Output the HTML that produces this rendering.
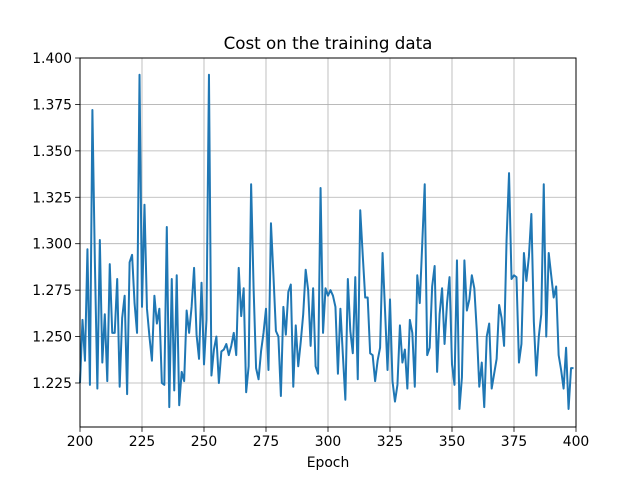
<!DOCTYPE html>
<html><head><meta charset="utf-8"><style>
body{margin:0;background:#fff;width:640px;height:480px;overflow:hidden}
svg text{font-family:"DejaVu Sans","Liberation Sans",sans-serif;fill:#000}
</style></head><body>
<svg id="chart" width="640" height="480">
<rect width="640" height="480" fill="#fff"/>
<text x="328" y="49" font-size="16.7" text-anchor="middle">Cost on the training data</text>
<g id="grid"></g>
<g id="series"></g>
<rect x="80" y="58" width="496" height="369" fill="none" stroke="#000" stroke-width="1"/>
<g id="ticks"></g>
<text x="328" y="467" font-size="13.9" text-anchor="middle">Epoch</text>
</svg>
<script>
const xTicks = [200, 225, 250, 275, 300, 325, 350, 375, 400];
const yTicks = [1.225, 1.250, 1.275, 1.300, 1.325, 1.350, 1.375, 1.400];
const yTickLabels = ["1.225","1.250","1.275","1.300","1.325","1.350","1.375","1.400"];
const startEpoch = 200;
const cost = [
1.225,1.259,1.237,1.297,1.224,1.372,1.290,1.222,1.302,1.236,
1.262,1.226,1.289,1.252,1.252,1.281,1.223,1.260,1.272,1.219,
1.290,1.294,1.268,1.252,1.391,1.266,1.321,1.265,1.250,1.237,
1.272,1.257,1.265,1.225,1.224,1.309,1.212,1.281,1.221,1.283,
1.213,1.231,1.226,1.264,1.252,1.266,1.287,1.251,1.238,1.279,
1.235,1.259,1.391,1.229,1.243,1.250,1.225,1.242,1.243,1.246,
1.240,1.245,1.252,1.240,1.287,1.261,1.276,1.220,1.234,1.332,
1.276,1.233,1.227,1.242,1.252,1.265,1.232,1.311,1.283,1.253,
1.250,1.218,1.266,1.251,1.274,1.278,1.223,1.256,1.234,1.247,
1.262,1.286,1.275,1.245,1.276,1.234,1.230,1.330,1.252,1.276,
1.272,1.275,1.272,1.266,1.230,1.265,1.240,1.216,1.281,1.253,
1.241,1.282,1.227,1.318,1.294,1.271,1.271,1.241,1.240,1.226,
1.237,1.244,1.295,1.264,1.232,1.270,1.226,1.215,1.224,1.256,
1.236,1.243,1.222,1.259,1.252,1.223,1.283,1.268,1.300,1.332,
1.240,1.244,1.277,1.288,1.231,1.262,1.276,1.246,1.268,1.282,
1.235,1.224,1.291,1.211,1.228,1.291,1.264,1.270,1.283,1.276,
1.253,1.223,1.236,1.212,1.250,1.257,1.222,1.230,1.238,1.267,
1.260,1.245,1.302,1.338,1.281,1.283,1.282,1.236,1.246,1.295,
1.280,1.293,1.316,1.258,1.229,1.250,1.262,1.332,1.250,1.295,
1.283,1.271,1.277,1.240,1.232,1.222,1.244,1.211,1.233,1.233
];
const L=80,R=576,T=58,B=427, X0=200,X1=400, Y0=1.2013,Y1=1.400;
const xs=v=>L+(v-X0)/(X1-X0)*(R-L);
const ys=v=>B-(v-Y0)/(Y1-Y0)*(B-T);
const NS="http://www.w3.org/2000/svg";
const grid=document.getElementById('grid'), ticks=document.getElementById('ticks'), ser=document.getElementById('series');
function mk(tag,attrs,parent){const e=document.createElementNS(NS,tag);for(const k in attrs)e.setAttribute(k,attrs[k]);parent.appendChild(e);return e;}
xTicks.forEach(t=>{
  const x=xs(t);
  const g=mk('line',{x1:x,x2:x,y1:T,y2:B,stroke:'#b0b0b0','stroke-width':0.8},grid);
  
  
  const tk=mk('line',{x1:x,x2:x,y1:B,y2:B+4.9,stroke:'#000','stroke-width':0.8},ticks);
  
  
  const tx=mk('text',{x:x,y:B+19,'font-size':13.9,'text-anchor':'middle'},ticks);
  tx.textContent=String(t);
  
  
});
yTicks.forEach((t,i)=>{
  const y=ys(t);
  const g=mk('line',{x1:L,x2:R,y1:y,y2:y,stroke:'#b0b0b0','stroke-width':0.8},grid);
  
  
  const tk=mk('line',{x1:L-4.9,x2:L,y1:y,y2:y,stroke:'#000','stroke-width':0.8},ticks);
  
  
  const tx=mk('text',{x:L-8,y:y+5,'font-size':13.9,'text-anchor':'end'},ticks);
  tx.textContent=yTickLabels[i];
  
  
});
const pts=cost.map((v,i)=>xs(startEpoch+i).toFixed(2)+','+ys(v).toFixed(2)).join(' ');
const line=mk('polyline',{points:pts,fill:'none',stroke:'#1f77b4','stroke-width':2,'stroke-linejoin':'round'},ser);


</script>
</body></html>
